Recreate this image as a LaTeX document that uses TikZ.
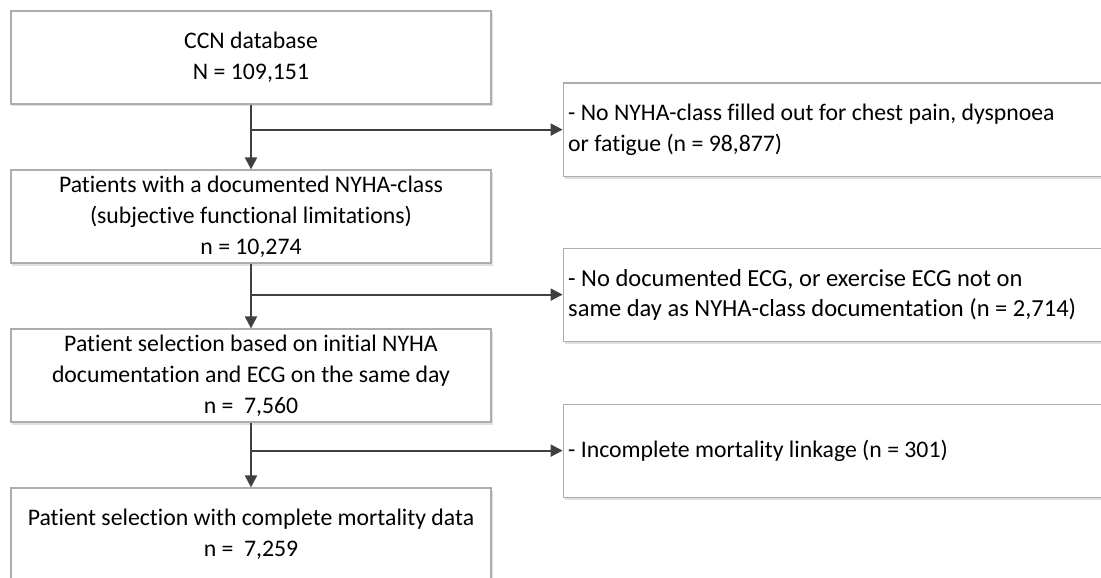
\documentclass[tikz,border=0pt]{standalone}
\usepackage{fontspec}
\setmainfont{Carlito}[Ligatures=NoCommon]
\usepackage{xcolor}
\usepackage{tikz}
\usetikzlibrary{positioning, arrows.meta, shadows}

\definecolor{linegray}{HTML}{404040}
\definecolor{framegray}{HTML}{ADADAD}
\newcommand{\wordspace}{\spaceskip=0pt\relax\xspaceskip=0pt\relax}

\begin{document}
\begin{tikzpicture}[
    node distance=64.8pt and 71pt,
    stage/.style={rectangle, draw=framegray, line width=1.2pt, fill=white, drop shadow={shadow xshift=1.5pt, shadow yshift=-2.5pt, fill=black!12, opacity=1}, minimum width=480pt, minimum height=93pt, align=center, font=\fontsize{23.75}{31}\selectfont},
    excl/.style={stage, text width=536pt, inner xsep=5pt, align=left, anchor=west},
    flow/.style={-{Triangle[length=12pt, width=12pt]}, draw=linegray, line width=2pt}
]
\useasboundingbox (-10.4pt,10.4pt) rectangle (1090.6pt,-567.6pt);

\node[stage, anchor=north west] (db) at (0,0) {CCN database \\ N = 109,151};
\node[stage, below=of db] (nyha) {Patients with a documented NYHA-class \\ (subjective functional limitations) \\ n = 10,274};
\node[stage, below=of nyha] (ecg) {Patient selection based on initial NYHA \\ documentation and ECG on the same day \\ n = ~7,560};
\node[stage, below=of ecg] (final) {Patient selection with complete mortality data \\ n = ~7,259};

\node[excl] (noclass) at ([xshift=71pt, yshift=-25pt]db.south east) {\wordspace - No NYHA-class filled out for chest pain, dyspnoea \\ or fatigue (n = 98,877)};
\node[excl, font=\fontsize{24.5}{30}\selectfont] (noecg) at ([xshift=71pt, yshift=-31pt]nyha.south east) {\wordspace - No documented ECG, or exercise ECG not on \\ same day as NYHA-class documentation (n = 2,714)};
\node[excl] (nolink) at ([xshift=71pt, yshift=-28pt]ecg.south east) {\wordspace - Incomplete mortality linkage (n = 301)};

\draw[flow] (db) -- (nyha);
\draw[flow] (nyha) -- (ecg);
\draw[flow] (ecg) -- (final);
\draw[flow] (db.south |- noclass.west) -- (noclass.west);
\draw[flow] (nyha.south |- noecg.west) -- (noecg.west);
\draw[flow] (ecg.south |- nolink.west) -- (nolink.west);

\end{tikzpicture}
\end{document}
